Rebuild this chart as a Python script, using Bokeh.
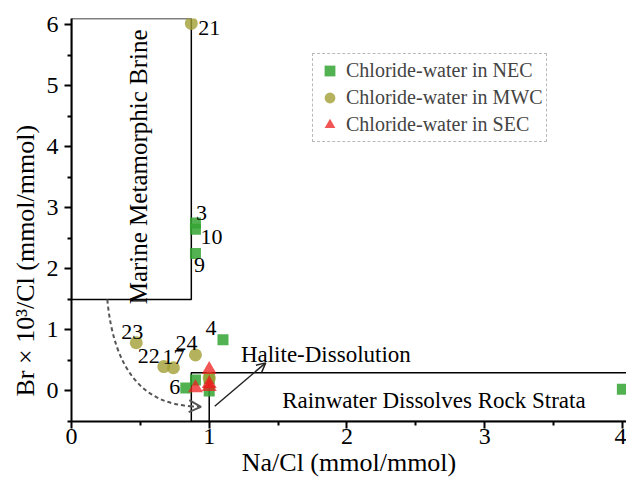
import math
from bokeh.plotting import figure
from bokeh.models import Range1d, Arrow, OpenHead, Legend, LegendItem, FixedTicker, Title
from bokeh.core.properties import value
from bokeh.embed import file_html
from bokeh.resources import INLINE

# ---- data ----
nec_x = [0.90, 0.90, 0.90, 1.10, 0.83, 0.90, 1.00, 1.00, 4.00]
nec_y = [2.75, 2.65, 2.25, 0.84, 0.05, 0.18, 0.00, 0.20, 0.03]
nec_lbl = ["3", "10", "9", "4", "6", "", "", "", ""]

mwc_x = [0.87, 0.47, 0.67, 0.74, 0.90, 1.00]
mwc_y = [6.02, 0.79, 0.40, 0.38, 0.59, 0.21]
mwc_lbl = ["21", "23", "22", "17", "24", ""]

sec_x = [1.00, 1.00, 1.00, 0.90]
sec_y = [0.35, 0.07, 0.12, 0.05]

series_names = ["Chloride-water in NEC", "Chloride-water in MWC", "Chloride-water in SEC"]
x_ticks = [0, 1, 2, 3, 4]
y_ticks = [0, 1, 2, 3, 4, 5, 6]

# label screen offsets (px, dx right, dy down)
lbl_off = {"3": (6, -10), "10": (16, 8), "9": (4, 11), "4": (-12, -12), "6": (-11, -1),
           "21": (18, 5), "23": (-4, -11), "22": (-15, -11), "17": (0, -11), "24": (-9, -12)}

FONT = "Liberation Serif"
GREEN = "#34a434"
OLIVE = "#a39f35"
RED = "#ee1c1c"

p = figure(width=626, height=479, output_backend="svg", toolbar_location=None,
           x_range=Range1d(0, 4.03), y_range=Range1d(-0.5, 6.1),
           min_border_left=71, min_border_right=0, min_border_top=18, min_border_bottom=57)
p.outline_line_color = None
p.grid.visible = False

for ax in (p.xaxis[0], p.yaxis[0]):
    ax.axis_line_width = 2
    ax.major_tick_line_width = 2
    ax.minor_tick_line_width = 2
    ax.major_tick_out = 7
    ax.major_tick_in = 0
    ax.minor_tick_out = 4
    ax.minor_tick_in = 0
    ax.major_label_text_font = FONT
    ax.major_label_text_font_size = "24px"
    ax.major_label_text_color = "black"
    ax.axis_label_text_font = FONT
    ax.axis_label_text_font_size = "26px"
    ax.axis_label_text_font_style = "normal"
    ax.axis_label_text_color = "black"

p.xaxis.ticker = FixedTicker(ticks=x_ticks, minor_ticks=[0.5, 1.5, 2.5, 3.5])
p.yaxis.ticker = FixedTicker(ticks=y_ticks, minor_ticks=[-0.5, 0.5, 1.5, 2.5, 3.5, 4.5, 5.5])
p.xaxis.axis_label = "Na/Cl (mmol/mmol)"
p.xaxis.major_label_standoff = 0
p.yaxis.major_label_standoff = 6
p.xaxis.axis_label_standoff = 1

# y axis title as a left-side title (shifted lower than the frame centre, like the reference)
p.add_layout(Title(text="Br × 10³/Cl (mmol/mmol)", align="left", offset=25, standoff=8,
                   text_font=FONT, text_font_size="26px", text_font_style="normal",
                   text_color="black"), "left")

# region boxes
p.quad(left=[0], right=[0.87], bottom=[1.5], top=[6.1], fill_alpha=0, line_color="black", line_width=1.5)
p.quad(left=[0.87], right=[4.2], bottom=[-0.5], top=[0.3], fill_alpha=0, line_color="black", line_width=1.5)
p.segment(x0=[1.0], y0=[-0.5], x1=[1.0], y1=[0.3], line_color="black", line_width=1.5)

# dashed curved arrow
p.quadratic(x0=[0.26], y0=[1.5], x1=[0.88], y1=[-0.25], cx=[0.33], cy=[-0.2],
            line_color="#555555", line_width=2, line_dash="4 3")
p.add_layout(Arrow(end=OpenHead(size=12, line_color="#555555", line_width=2),
                   x_start=0.86, y_start=-0.25, x_end=0.94, y_end=-0.26,
                   line_color="#555555", line_width=2, line_dash="4 3"))
# halite arrow
p.add_layout(Arrow(end=OpenHead(size=9, line_color="#222222", line_width=1.5),
                   x_start=1.04, y_start=-0.25, x_end=1.41, y_end=0.46,
                   line_color="#222222", line_width=1.5))

# region texts
p.text(x=[0.49], y=[3.67], text=["Marine Metamorphic Brine"], angle=math.pi / 2,
       text_font=value(FONT), text_font_size="25px", text_align="center", text_baseline="middle",
       text_color="black")
p.text(x=[1.23], y=[0.6], text=["Halite-Dissolution"], text_font=value(FONT), text_font_size="23px",
       text_align="left", text_baseline="middle", text_color="black")
p.text(x=[1.53], y=[-0.15], text=["Rainwater Dissolves Rock Strata"], text_font=value(FONT),
       text_font_size="23px", text_align="left", text_baseline="middle", text_color="black")

# points
r_nec = p.scatter(nec_x, nec_y, marker="square", size=11, fill_color=GREEN, fill_alpha=0.85,
                  line_color=None)
r_mwc = p.scatter(mwc_x, mwc_y, marker="circle", size=13, fill_color=OLIVE, fill_alpha=0.8,
                  line_color=None)
r_sec = p.scatter(sec_x, sec_y, marker="triangle", size=15, fill_color=RED, fill_alpha=0.75,
                  line_color=None)

# point labels
for xs, ys, ls in ((nec_x, nec_y, nec_lbl), (mwc_x, mwc_y, mwc_lbl)):
    for x, y, l in zip(xs, ys, ls):
        if not l:
            continue
        dx, dy = lbl_off[l]
        p.text(x=[x], y=[y], text=[l], x_offset=dx, y_offset=dy, text_font=value(FONT),
               text_font_size="22px", text_align="center", text_baseline="middle", text_color="black")

legend = Legend(items=[LegendItem(label=series_names[0], renderers=[r_nec]),
                       LegendItem(label=series_names[1], renderers=[r_mwc]),
                       LegendItem(label=series_names[2], renderers=[r_sec])],
                location=(241, 279))
legend.label_text_font = FONT
legend.label_text_font_size = "20px"
legend.border_line_color = "#777777"
legend.border_line_dash = "3 2"
legend.border_line_width = 1
legend.background_fill_alpha = 1
legend.glyph_width = 27
legend.glyph_height = 27
legend.label_height = 20
legend.spacing = 0
legend.padding = 3
legend.margin = 0
legend.label_standoff = 3
p.add_layout(legend)

open("out.html", "w").write(file_html(p, INLINE))
